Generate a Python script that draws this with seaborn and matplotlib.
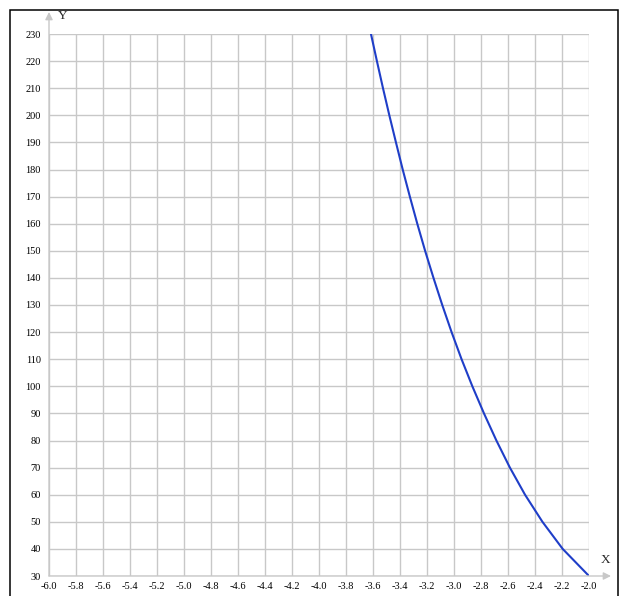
import numpy as np
import pandas as pd
import seaborn as sns
from matplotlib import pyplot as plt
from matplotlib.patches import Rectangle

# values (x where the curve crosses each y gridline)
curve_x = [-3.615, -3.571, -3.526, -3.479, -3.430, -3.380, -3.327, -3.272, -3.214,
           -3.152, -3.087, -3.018, -2.944, -2.864, -2.778, -2.686, -2.586, -2.474,
           -2.345, -2.195, -2.000]
curve_y = [230, 220, 210, 200, 190, 180, 170, 160, 150, 140, 130, 120, 110, 100,
           90, 80, 70, 60, 50, 40, 30]

x_ticks = [round(-6.0 + 0.2 * i, 1) for i in range(21)]
x_tick_labels = [f'{v:.1f}' for v in x_ticks]
y_ticks = list(range(30, 231, 10))
y_tick_labels = [str(v) for v in y_ticks]

W, H = 627, 596
GRID = '#c8c8c8'


def fx(px):
    return px / W


def fy(py):
    return 1 - py / H


def main():
    sns.set_style('white')
    plt.rcParams['font.family'] = ['Liberation Serif', 'DejaVu Serif']
    plt.rcParams['axes.unicode_minus'] = False

    fig = plt.figure(figsize=(W / 100, H / 100), dpi=100)
    ax = fig.add_axes([fx(49), fy(576), fx(589) - fx(49), fy(34) - fy(576)])

    df = pd.DataFrame({'x': curve_x, 'y': curve_y})
    sns.lineplot(data=df, x='x', y='y', color='#1f3ec8', linewidth=1.5,
                 estimator=None, sort=False, ax=ax, zorder=3)

    ax.set_xlim(-6.0, -2.0)
    ax.set_ylim(30, 230)
    ax.set_xticks(x_ticks)
    ax.set_xticklabels(x_tick_labels)
    ax.set_yticks(y_ticks)
    ax.set_yticklabels(y_tick_labels)
    ax.tick_params(axis='both', length=0, labelsize=7.5, colors='black')
    ax.tick_params(axis='x', pad=4)
    ax.tick_params(axis='y', pad=6)
    ax.set_xlabel('')
    ax.set_ylabel('')
    ax.grid(True, color=GRID, linewidth=1.0)
    for s in ax.spines.values():
        s.set_visible(False)

    # axis arrows
    arrow = dict(arrowstyle='-|>', color=GRID, lw=1.0, mutation_scale=11,
                 shrinkA=0, shrinkB=0)
    ax.annotate('', xy=(0, 1 + 22 / 542), xytext=(0, 0), xycoords='axes fraction',
                textcoords='axes fraction', arrowprops=arrow, annotation_clip=False)
    ax.annotate('', xy=(1 + 22 / 540, 0), xytext=(0, 0), xycoords='axes fraction',
                textcoords='axes fraction', arrowprops=arrow, annotation_clip=False)

    fig.text(fx(63), fy(16), 'Y', fontsize=9.5, ha='center', va='center')
    fig.text(fx(606), fy(560), 'X', fontsize=9.5, ha='center', va='center')

    # outer frame
    fig.patches.append(Rectangle((fx(9.5), fy(605)), fx(618) - fx(9.5), fy(9.5) - fy(605),
                                 transform=fig.transFigure, fill=False,
                                 edgecolor='black', linewidth=1.1))

    fig.savefig('out.png', dpi=100)


if __name__ == '__main__':
    main()
